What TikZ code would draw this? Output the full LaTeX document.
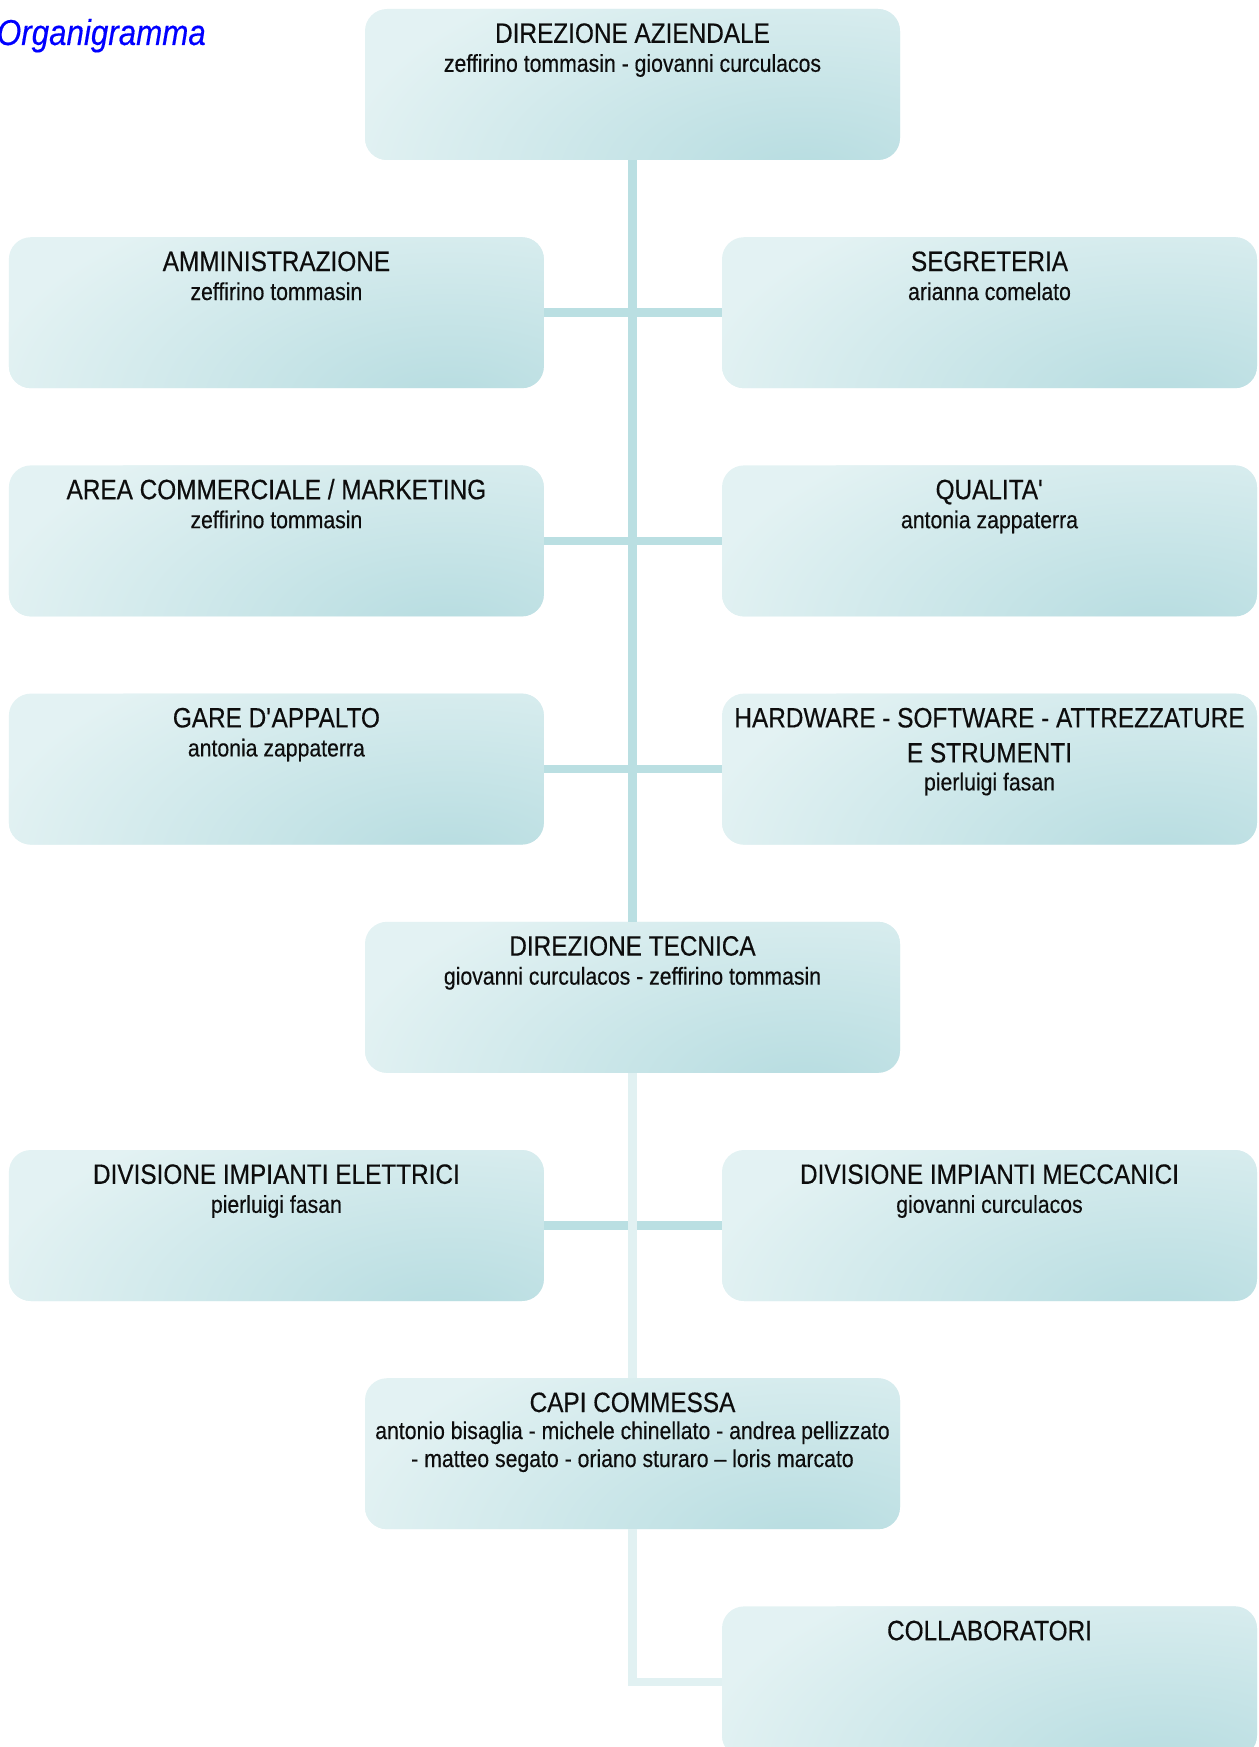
\documentclass[tikz,border=0pt]{standalone}
\usepackage{fontspec}
\newfontfamily\orgfont{Liberation Sans}[FakeStretch=0.87,FakeBold=0.35]
\newfontfamily\orgital{Liberation Sans Italic}[FakeStretch=0.87,FakeBold=0.3]
\definecolor{boxlight}{HTML}{E3F2F3}
\definecolor{boxdark}{HTML}{B6DCE0}
\definecolor{connDark}{HTML}{BADFE2}
\definecolor{connLight}{HTML}{E1F1F2}
\definecolor{titleblue}{HTML}{0000FF}
\tikzset{
  orgbox/.style={rounded corners=22pt, minimum width=535pt, minimum height=151pt,
    inner sep=0pt, fill=boxlight,
    path picture={\shade[inner color=boxdark, outer color=boxlight]
      ([xshift=-95pt,yshift=-15pt]path picture bounding box.south east) ellipse (470pt and 230pt);}},
  ttl/.style={anchor=base, inner sep=0pt, font=\orgfont\fontsize{28}{33}\selectfont, text=black!95},
  sub/.style={anchor=base, inner sep=0pt, font=\orgfont\fontsize{24.4}{28}\selectfont, text=black!95},
  connD/.style={draw=connDark, line width=8.5pt},
  connL/.style={draw=connLight, line width=8.5pt, line join=miter},
}
\begin{document}
\begin{tikzpicture}[x=1pt,y=-1pt]
\useasboundingbox (0,0) rectangle (1258,1747);
% boxes
\node[orgbox] (dirAz) at (632.5,84.5) {};
\node[orgbox] (amm) at (276.4,312.7) {};
\node[orgbox] (seg) at (989.5,312.7) {};
\node[orgbox] (comm) at (276.4,540.9) {};
\node[orgbox] (qual) at (989.5,540.9) {};
\node[orgbox] (gare) at (276.4,769.1) {};
\node[orgbox] (hw) at (989.5,769.1) {};
\node[orgbox] (dirTec) at (632.5,997.3) {};
\node[orgbox] (divE) at (276.4,1225.5) {};
\node[orgbox] (divM) at (989.5,1225.5) {};
\node[orgbox] (capi) at (632.5,1453.7) {};
\node[orgbox] (collab) at (989.5,1681.9) {};
% connectors
\draw[connD] (dirAz.south) -- (dirTec.north);
\draw[connD] (amm.east) -- (seg.west);
\draw[connD] (comm.east) -- (qual.west);
\draw[connD] (gare.east) -- (hw.west);
\draw[connD] (divE.east) -- (divM.west);
\draw[connL] (dirTec.south) -- (capi.north);
\draw[connL] (capi.south) |- (collab.west);
% title
\node[anchor=base east, inner sep=0pt, font=\orgital\fontsize{36}{40}\selectfont, text=titleblue] (head) at (206,45) {Organigramma};
% texts
\node[ttl] (dirAzT) at ([yshift=-34pt]dirAz.north) {DIREZIONE AZIENDALE};
\node[sub] (dirAzS) at ([yshift=-63pt]dirAz.north) {zeffirino tommasin - giovanni curculacos};
\node[ttl] (ammT) at ([yshift=-34pt]amm.north) {AMMINISTRAZIONE};
\node[sub] (ammS) at ([yshift=-63pt]amm.north) {zeffirino tommasin};
\node[ttl] (segT) at ([yshift=-34pt]seg.north) {SEGRETERIA};
\node[sub] (segS) at ([yshift=-63pt]seg.north) {arianna comelato};
\node[ttl] (commT) at ([yshift=-34pt]comm.north) {AREA COMMERCIALE / MARKETING};
\node[sub] (commS) at ([yshift=-63pt]comm.north) {zeffirino tommasin};
\node[ttl] (qualT) at ([yshift=-34pt]qual.north) {QUALITA\textquotesingle};
\node[sub] (qualS) at ([yshift=-63pt]qual.north) {antonia zappaterra};
\node[ttl] (gareT) at ([yshift=-34pt]gare.north) {GARE D\textquotesingle APPALTO};
\node[sub] (gareS) at ([yshift=-63pt]gare.north) {antonia zappaterra};
\node[ttl] (hwT) at ([yshift=-34pt]hw.north) {HARDWARE - SOFTWARE - ATTREZZATURE};
\node[ttl] (hwT2) at ([yshift=-69pt]hw.north) {E STRUMENTI};
\node[sub] (hwS) at ([yshift=-97pt]hw.north) {pierluigi fasan};
\node[ttl] (dirTecT) at ([yshift=-34pt]dirTec.north) {DIREZIONE TECNICA};
\node[sub] (dirTecS) at ([yshift=-63pt]dirTec.north) {giovanni curculacos - zeffirino tommasin};
\node[ttl] (divET) at ([yshift=-34pt]divE.north) {DIVISIONE IMPIANTI ELETTRICI};
\node[sub] (divES) at ([yshift=-63pt]divE.north) {pierluigi fasan};
\node[ttl] (divMT) at ([yshift=-34pt]divM.north) {DIVISIONE IMPIANTI MECCANICI};
\node[sub] (divMS) at ([yshift=-63pt]divM.north) {giovanni curculacos};
\node[ttl] (capiT) at ([yshift=-34pt]capi.north) {CAPI COMMESSA};
\node[sub] (capiS) at ([yshift=-61pt]capi.north) {antonio bisaglia - michele chinellato - andrea pellizzato};
\node[sub] (capiS2) at ([yshift=-89pt]capi.north) {- matteo segato - oriano sturaro – loris marcato};
\node[ttl] (collabT) at ([yshift=-34pt]collab.north) {COLLABORATORI};
\end{tikzpicture}
\end{document}
